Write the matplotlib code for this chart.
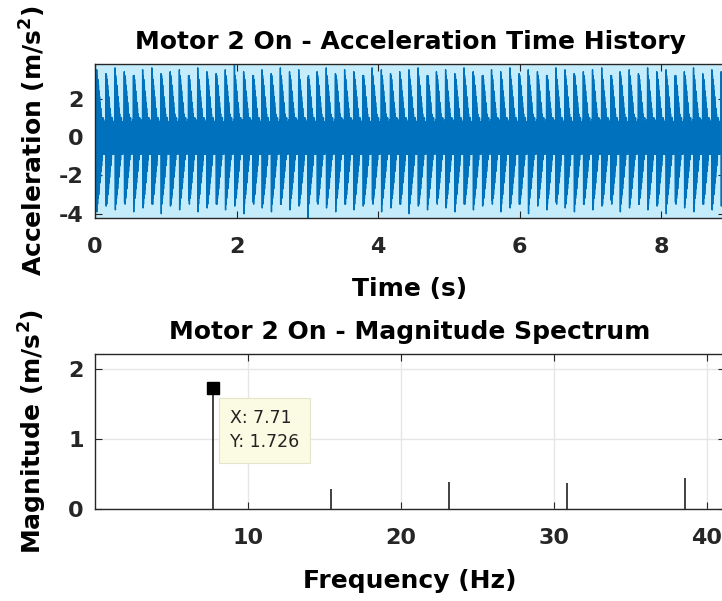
import numpy as np
import matplotlib
matplotlib.use("Agg")
import matplotlib.pyplot as plt

# ---- data ----
motor_freq = 7.71                      # fundamental (Hz), from the data tip
samples_per_cycle = 32

# one representative cycle of the acceleration signal (m/s^2):
# dense +/-1 band with an impact spike and its ringing
base_cycle = [0.3, -0.9, 0.8, -0.6, 0.9, -0.8,
              3.4, -3.7, 3.2, -3.5, 3.0, -3.2, 2.7, -3.0, 2.4, -2.7,
              2.1, -2.4, 1.8, -2.1, 1.5, -1.8, 1.2, -1.5, 1.0, -1.2,
              0.6, -0.8, 1.0, -0.9, 0.8, -0.6]
spike_pos_idx = 6
spike_neg_idx = 7

# per-cycle spike peaks / troughs (m/s^2), estimated
cycle_peaks = [3.5, 3.3, 3.6, 3.4, 3.2, 3.5, 3.6, 3.3, 3.4, 3.5, 3.2, 3.6,
               3.4, 3.3, 3.5, 3.78, 3.4, 3.2, 3.5, 3.3, 3.6, 3.4, 3.5, 3.1,
               3.4, 3.6, 3.3, 3.5, 3.4, 3.2, 3.6, 3.5, 3.3, 3.4, 3.5, 3.6,
               3.2, 3.4, 3.5, 3.3, 3.6, 3.4, 3.2, 3.5, 3.4, 3.6, 3.3, 3.5,
               3.4, 3.2, 3.6, 3.5, 3.3, 3.4, 3.5, 3.6, 3.2, 3.4, 3.5, 3.3,
               3.6, 3.4, 3.5, 3.2, 3.4, 3.6, 3.3, 3.5, 3.4]
cycle_troughs = [-3.9, -3.6, -3.8, -3.4, -3.9, -3.7, -3.5, -4.0, -3.6, -3.8,
                 -3.3, -3.9, -3.7, -3.5, -3.8, -3.6, -4.0, -3.4, -3.7, -3.9,
                 -3.5, -3.8, -3.6, -4.22, -3.4, -3.7, -3.9, -3.5, -3.8, -3.6,
                 -3.3, -3.9, -3.7, -3.5, -4.0, -3.6, -3.8, -3.4, -3.7, -3.9,
                 -3.5, -3.8, -3.6, -3.3, -3.9, -3.7, -3.5, -4.0, -3.6, -3.8,
                 -3.4, -3.7, -3.9, -3.5, -3.8, -3.6, -3.3, -3.9, -3.7, -3.5,
                 -3.8, -3.6, -4.0, -3.4, -3.7, -3.9, -3.5, -3.8, -3.6]

# magnitude spectrum peaks
spec_freqs = [7.71, 15.42, 23.13, 30.84, 38.55]
spec_mags = [1.726, 0.29, 0.38, 0.375, 0.44]

# ---- build time history from the cycles ----
cycles = []
for pk, tr in zip(cycle_peaks, cycle_troughs):
    c = list(base_cycle)
    c[spike_pos_idx] = pk
    c[spike_neg_idx] = tr
    cycles.extend(c)
accel = np.array(cycles)
fs = motor_freq * samples_per_cycle
t = np.arange(len(accel)) / fs

# ---- figure ----
plt.rcParams['font.family'] = ['DejaVu Sans']
plt.rcParams['font.weight'] = 'bold'
plt.rcParams['axes.unicode_minus'] = False
edge = '#262626'

fig = plt.figure(figsize=(7.22, 6.01), dpi=100)
ax1 = fig.add_axes([0.1316, 0.6373, 0.8726, 0.2562])
ax2 = fig.add_axes([0.1316, 0.1531, 0.8726, 0.2579])

for ax in (ax1, ax2):
    for s in ax.spines.values():
        s.set_color(edge)
        s.set_linewidth(1.0)
    ax.tick_params(direction='in', length=5, width=0.8, colors=edge,
                   top=True, right=True, labelsize=16)
    ax.tick_params(axis='x', pad=14)
    ax.tick_params(axis='y', pad=8)

# top: acceleration time history
ax1.set_facecolor('#c4ecfa')
ax1.plot(t, accel, color='#0072BD', lw=1.0)
ax1.set_xlim(0, 8.9)
ax1.set_ylim(-4.22, 3.8)
ax1.set_xticks([0, 2, 4, 6, 8])
ax1.set_yticks([-4, -2, 0, 2])
ax1.set_title('Motor 2 On - Acceleration Time History', fontsize=18,
              fontweight='bold', pad=11)
ax1.set_xlabel('Time (s)', fontsize=18, fontweight='bold', labelpad=14)
ax1.set_ylabel('Acceleration (m/s$^\\mathbf{2}$)', fontsize=18,
               fontweight='bold', labelpad=8)

# bottom: magnitude spectrum
ax2.grid(True, color='#e6e6e6', lw=1.0)
ax2.set_axisbelow(True)
ax2.vlines(spec_freqs, 0, spec_mags, color='#333333', lw=1.3)
ax2.plot([spec_freqs[0]], [spec_mags[0]], 's', color='black', ms=8.5)
ax2.annotate('X: %.2f\nY: %.3f' % (spec_freqs[0], spec_mags[0]),
             xy=(spec_freqs[0], spec_mags[0]), xytext=(17, -21),
             textcoords='offset pixels', ha='left', va='top',
             fontsize=12.5, fontweight='normal', color='#222222',
             linespacing=1.45,
             bbox=dict(boxstyle='square,pad=0.65', fc='#fbfbe4',
                       ec='#e4e4cc', lw=0.8))
ax2.set_xlim(0, 41.2)
ax2.set_ylim(0, 2.21)
ax2.set_xticks([10, 20, 30, 40])
ax2.set_yticks([0, 1, 2])
ax2.set_title('Motor 2 On - Magnitude Spectrum', fontsize=18,
              fontweight='bold', pad=11)
ax2.set_xlabel('Frequency (Hz)', fontsize=18, fontweight='bold', labelpad=15)
ax2.set_ylabel('Magnitude (m/s$^\\mathbf{2}$)', fontsize=18,
               fontweight='bold', labelpad=14)

fig.savefig('out.png', dpi=100)
